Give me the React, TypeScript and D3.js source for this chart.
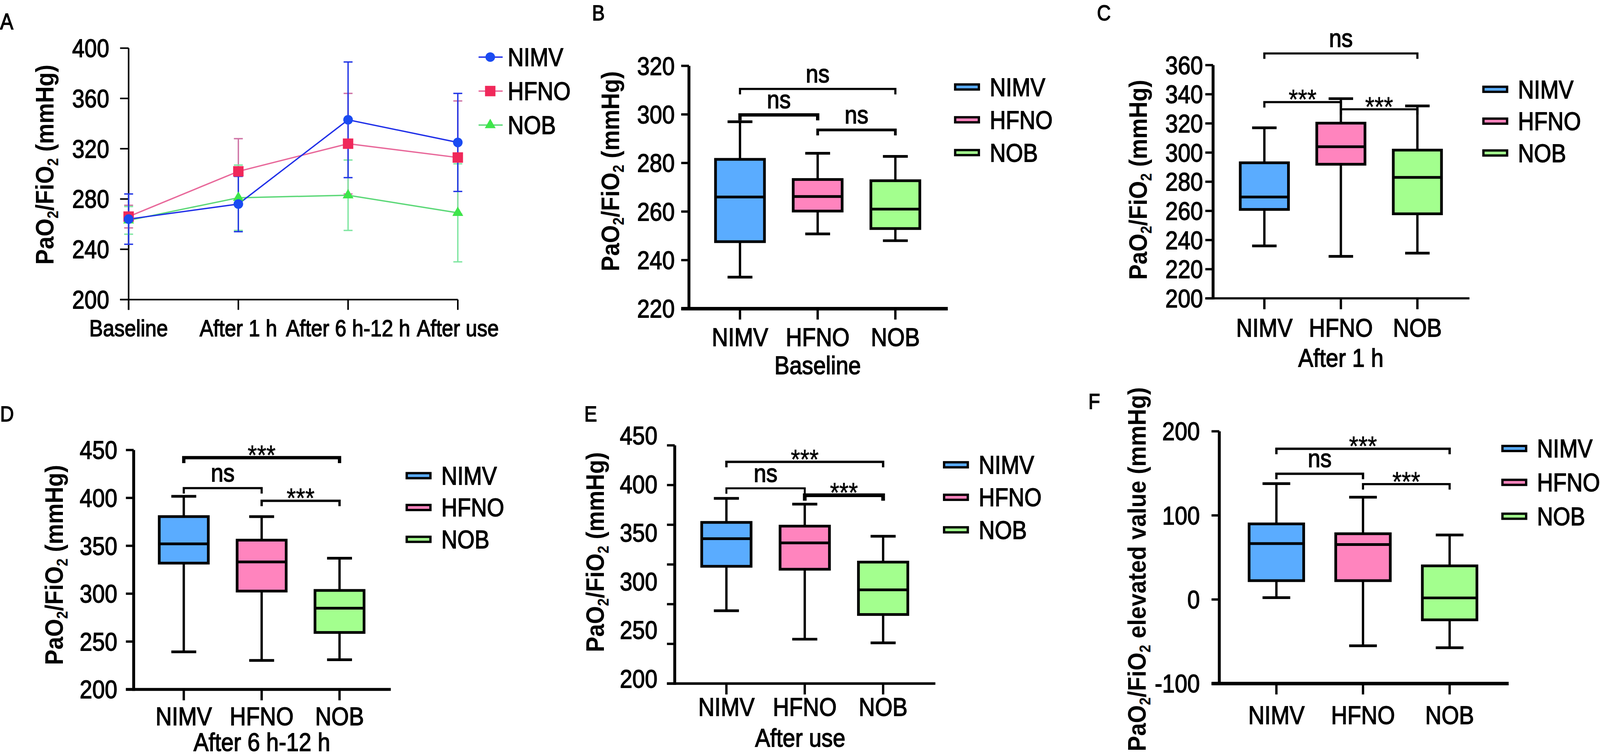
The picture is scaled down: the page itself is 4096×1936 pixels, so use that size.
import * as d3 from 'd3';

const FONT = '"Liberation Sans", Arial, Helvetica, sans-serif';
const SX = 0.88;

const groups = ['NIMV', 'HFNO', 'NOB'];
const timepoints = ['Baseline', 'After 1 h', 'After 6 h-12 h', 'After use'];

// Panel A: mean and SD at each time point
const nimvMean = [264, 276, 343, 325];
const nimvSd = [20, 22, 46, 39];
const hfnoMean = [266, 302, 324, 313];
const hfnoSd = [9, 26, 40, 45];
const nobMean = [263, 281, 283, 269];
const nobSd = [11, 26, 28, 39];
const trendTicks = [200, 240, 280, 320, 360, 400];

// Box panels: [min, q1, median, q3, max] for NIMV, HFNO, NOB
const baselineBox = [
  [233, 247.6, 266, 281.5, 297],
  [250.8, 260.2, 266.2, 273.2, 284],
  [248, 253, 261, 272.7, 282.7],
];
const baselineTicks = [220, 240, 260, 280, 300, 320];
const baselineSig: [number, number, number, string][] = [
  [0, 2, 310.5, 'ns'], [0, 1, 299.8, 'ns'], [1, 2, 293.6, 'ns'],
];

const after1hBox = [
  [236, 261, 269.5, 293, 317],
  [228.8, 292, 304, 320.2, 337],
  [231, 258, 283, 301.7, 332],
];
const after1hTicks = [200, 220, 240, 260, 280, 300, 320, 340, 360];
const after1hSig: [number, number, number, string][] = [
  [0, 2, 368, 'ns'], [0, 1, 334.6, '***'], [1, 2, 329.7, '***'],
];

const after6hBox = [
  [239.3, 331.9, 352, 380.5, 401.7],
  [230.3, 302.7, 333.2, 355.9, 380.5],
  [231, 259.5, 284.8, 303.4, 337],
];
const after6hTicks = [200, 250, 300, 350, 400, 450];
const after6hSig: [number, number, number, string][] = [
  [0, 2, 442, '***'], [0, 1, 410.2, 'ns'], [1, 2, 397, '***'],
];

const afterUseBox = [
  [241.7, 297.7, 332.5, 353, 383.2],
  [205.9, 294, 327.2, 348.3, 376],
  [201.3, 237, 268.1, 303, 335.6],
];
const afterUseTicks = [150, 200, 250, 300, 350, 400, 450];
const afterUseLabels = [200, 250, 300, 350, 400, 450];
const afterUseSig: [number, number, number, string][] = [
  [0, 2, 429.2, '***'], [0, 1, 395.9, 'ns'], [1, 2, 387.2, '***'],
];

const elevatedBox = [
  [2.2, 22.4, 66.5, 89.9, 137.8],
  [-55, 22.4, 65.3, 78.2, 121.6],
  [-57.4, -24.2, 1.9, 40, 76.7],
];
const elevatedTicks = [-100, 0, 100, 200];
const elevatedSig: [number, number, number, string][] = [
  [0, 2, 179.2, '***'], [0, 1, 149.5, 'ns'], [1, 2, 137.2, '***'],
];

const boxFill = ['#5aacff', '#ff84be', '#a3ff8e'];

function Txt({ x, y, size, children, anchor = 'middle', weight = 400, rotate = 0, heavy = 1.8 }: any) {
  return (
    <text
      transform={`translate(${x},${y})${rotate ? ` rotate(${rotate})` : ''} scale(${SX},1)`}
      fontSize={size}
      fontWeight={weight}
      textAnchor={anchor}
      fontFamily={FONT}
      fill="#000"
      stroke="#000"
      strokeWidth={heavy}
    >
      {children}
    </text>
  );
}

function AxisTitle({ x, y, middle = '' }: any) {
  return (
    <text
      transform={`translate(${x},${y}) rotate(-90) scale(0.9,1)`}
      fontSize={66}
      fontWeight={700}
      textAnchor="middle"
      fontFamily={FONT}
      fill="#000"
    >
      PaO<tspan fontSize={40} dy={12}>2</tspan>
      <tspan dy={-12}>/FiO</tspan>
      <tspan fontSize={40} dy={12}>2</tspan>
      <tspan dy={-12}>{`${middle} (mmHg)`}</tspan>
    </text>
  );
}

function TrendPanel() {
  const x = d3.scalePoint<string>().domain(timepoints).range([331, 1178.5]);
  const y = d3.scaleLinear().domain([200, 400]).range([771.5, 124]);
  const series = [
    { name: 'HFNO', mean: hfnoMean, sd: hfnoSd, marker: '#f0285a', line: '#e8689a', err: '#cf74a6', sym: d3.symbolSquare, size: 720 },
    { name: 'NOB', mean: nobMean, sd: nobSd, marker: '#3ee64a', line: '#5cd878', err: '#80e6a2', sym: d3.symbolTriangle, size: 340 },
    { name: 'NIMV', mean: nimvMean, sd: nimvSd, marker: '#1a4bf2', line: '#1f2fe8', err: '#2236e6', sym: d3.symbolCircle, size: 480 },
  ];
  const legendOrder = ['NIMV', 'HFNO', 'NOB'];
  const legendRows = d3.scalePoint<string>().domain(legendOrder).range([147, 322]);
  const line = d3.line<number>().x((_, i) => x(timepoints[i])!).y((d) => y(d));
  const cap = 11.5;
  return (
    <g>
      <Txt x={0} y={75} size={58} anchor="start">A</Txt>
      <AxisTitle x={138} y={424} />
      {/* axes */}
      <line x1={331} x2={331} y1={124} y2={798} stroke="#000" strokeWidth={4} />
      <line x1={309} x2={1178.5} y1={y(200)} y2={y(200)} stroke="#000" strokeWidth={4} />
      {trendTicks.map((t) => (
        <g key={t}>
          <line x1={309} x2={331} y1={y(t)} y2={y(t)} stroke="#000" strokeWidth={4} />
          <Txt x={281} y={y(t) + 23} size={65} anchor="end">{t}</Txt>
        </g>
      ))}
      {timepoints.map((t) => (
        <g key={t}>
          <line x1={x(t)} x2={x(t)} y1={y(200)} y2={798} stroke="#000" strokeWidth={4} />
          <Txt x={x(t)} y={866} size={60}>{t}</Txt>
        </g>
      ))}
      {/* lines and error bars */}
      {series.map((s) => (
        <g key={s.name}>
          <path d={line(s.mean)!} fill="none" stroke={s.line} strokeWidth={3.5} />
          {s.mean.map((m, i) => {
            const cx = x(timepoints[i])!;
            return (
              <g key={i} stroke={s.err} strokeWidth={3.5}>
                <line x1={cx} x2={cx} y1={y(m + s.sd[i])} y2={y(m - s.sd[i])} />
                <line x1={cx - cap} x2={cx + cap} y1={y(m + s.sd[i])} y2={y(m + s.sd[i])} />
                <line x1={cx - cap} x2={cx + cap} y1={y(m - s.sd[i])} y2={y(m - s.sd[i])} />
              </g>
            );
          })}
        </g>
      ))}
      {series.map((s) =>
        s.mean.map((m, i) => (
          <path
            key={s.name + i}
            transform={`translate(${x(timepoints[i])},${y(m)})`}
            d={d3.symbol().type(s.sym).size(s.size)()!}
            fill={s.marker}
          />
        ))
      )}
      {/* legend */}
      {legendOrder.map((n) => {
        const s = series.find((d) => d.name === n)!;
        const ly = legendRows(n)!;
        return (
          <g key={n}>
            <line x1={1232} x2={1294} y1={ly} y2={ly} stroke={s.line} strokeWidth={3.5} />
            <path transform={`translate(1262,${ly})`} d={d3.symbol().type(s.sym).size(s.size)()!} fill={s.marker} />
            <Txt x={1307} y={ly + 23} size={65} anchor="start">{n}</Txt>
          </g>
        );
      })}
    </g>
  );
}

function BoxPanel({ cfg }: any) {
  const y = d3.scaleLinear().domain(cfg.domain).range([cfg.yBottom, cfg.yTop]);
  const x = d3.scalePoint<string>().domain(groups).range(cfg.catRange);
  const labelY = cfg.labelRange
    ? d3.scaleLinear().domain([cfg.labels[0], cfg.labels[cfg.labels.length - 1]]).range(cfg.labelRange)
    : y;
  const labels = cfg.labels || cfg.ticks;
  const step = cfg.catRange[1] - cfg.catRange[0];
  const bw = (step / 2) * 0.63;
  const cw = (step / 2) * 0.32;
  const ax = cfg.axisX;
  const yb = y(cfg.domain[0]);
  const legendRows = d3.scalePoint<string>().domain(groups).range(cfg.legendRows);
  const drop = 14;
  return (
    <g>
      <Txt x={cfg.letterX} y={cfg.letterY} size={56} anchor="start">{cfg.letter}</Txt>
      <AxisTitle x={cfg.titleX} y={cfg.titleY} middle={cfg.titleMiddle} />
      {/* boxes */}
      {cfg.stats.map((st: number[], i: number) => {
        const cx = x(groups[i])!;
        const [mn, q1, md, q3, mx] = st;
        return (
          <g key={i} stroke="#000">
            <line x1={cx} x2={cx} y1={y(mx)} y2={y(q3)} strokeWidth={6} />
            <line x1={cx} x2={cx} y1={y(q1)} y2={y(mn)} strokeWidth={6} />
            <line x1={cx - cw / 2} x2={cx + cw / 2} y1={y(mx)} y2={y(mx)} strokeWidth={7} />
            <line x1={cx - cw / 2} x2={cx + cw / 2} y1={y(mn)} y2={y(mn)} strokeWidth={7} />
            <rect x={cx - bw / 2} y={y(q3)} width={bw} height={y(q1) - y(q3)} fill={boxFill[i]} strokeWidth={7} />
            <line x1={cx - bw / 2} x2={cx + bw / 2} y1={y(md)} y2={y(md)} strokeWidth={7} />
          </g>
        );
      })}
      {/* axes */}
      <line x1={ax} x2={ax} y1={y(cfg.ticks[cfg.ticks.length - 1])} y2={yb + cfg.xAxisW / 2} stroke="#000" strokeWidth={7.5} />
      <line x1={ax - 20} x2={cfg.xAxisRight} y1={yb} y2={yb} stroke="#000" strokeWidth={cfg.xAxisW} />
      {cfg.ticks.map((t: number) => (
        <line key={t} x1={ax - 20} x2={ax} y1={y(t)} y2={y(t)} stroke="#000" strokeWidth={6} />
      ))}
      {labels.map((t: number) => (
        <Txt key={t} x={cfg.tickLabelX} y={labelY(t) + 23} size={66} anchor="end">{t}</Txt>
      ))}
      {groups.map((g) => (
        <g key={g}>
          <line x1={x(g)} x2={x(g)} y1={yb} y2={yb + 28} stroke="#000" strokeWidth={6} />
          <Txt x={x(g)} y={cfg.catBaseline} size={66}>{g}</Txt>
        </g>
      ))}
      {cfg.subtitle && (
        <Txt x={cfg.subtitleX} y={cfg.subtitleBaseline} size={66}>{cfg.subtitle}</Txt>
      )}
      {/* significance brackets */}
      {cfg.sig.map(([a, b, v, lab]: [number, number, number, string], k: number) => {
        const x1 = x(groups[a])!;
        const x2 = x(groups[b])!;
        const by = y(v);
        return (
          <g key={k}>
            <path
              d={`M${x1},${by + drop}V${by}H${x2}V${by + drop}`}
              fill="none"
              stroke="#000"
              strokeWidth={cfg.sigW[k]}
            />
            <Txt x={(x1 + x2) / 2} y={lab === 'ns' ? by - 17 : by + 18} size={lab === 'ns' ? 66 : 70} heavy={lab === 'ns' ? 1.8 : 0.8}>{lab}</Txt>
          </g>
        );
      })}
      {/* legend */}
      {groups.map((g, i) => {
        const ly = legendRows(g)!;
        return (
          <g key={g}>
            <rect x={cfg.legendX + 3} y={ly - 6.5} width={61} height={13} fill={boxFill[i]} stroke="#000" strokeWidth={6} />
            <Txt x={cfg.legendX + 92} y={ly + 23} size={65} anchor="start">{g}</Txt>
          </g>
        );
      })}
    </g>
  );
}

const panels = [
  {
    letter: 'B', letterX: 1524, letterY: 52, stats: baselineBox, ticks: baselineTicks, sig: baselineSig,
    domain: [220, 320], yBottom: 795, yTop: 169.6, axisX: 1773.6, catRange: [1905, 2305], xAxisRight: 2440,
    xAxisW: 9, tickLabelX: 1737, catBaseline: 891, subtitle: 'Baseline', subtitleX: 2105, subtitleBaseline: 963,
    legendX: 2456, legendRows: [224, 393], titleX: 1594, titleY: 441, sigW: [5.5, 8.5, 7],
  },
  {
    letter: 'C', letterX: 2824, letterY: 52, stats: after1hBox, ticks: after1hTicks, sig: after1hSig,
    domain: [200, 360], yBottom: 768.4, yTop: 167.7, axisX: 3123, catRange: [3255, 3649], xAxisRight: 3783,
    xAxisW: 5.5, tickLabelX: 3097, catBaseline: 867, subtitle: 'After 1 h', subtitleX: 3452, subtitleBaseline: 944,
    legendX: 3816, legendRows: [230, 394], titleX: 2953, titleY: 463, sigW: [5.5, 5.5, 5.5],
  },
  {
    letter: 'D', letterX: 0, letterY: 1085, stats: after6hBox, ticks: after6hTicks, sig: after6hSig,
    domain: [200, 450], yBottom: 1775.6, yTop: 1159, axisX: 344, catRange: [473, 874], xAxisRight: 1006,
    xAxisW: 7.5, tickLabelX: 302, catBaseline: 1868, subtitle: 'After 6 h-12 h', subtitleX: 674, subtitleBaseline: 1934,
    legendX: 1044, legendRows: [1225, 1389], titleX: 162, titleY: 1455, sigW: [8.5, 5.5, 6],
  },
  {
    letter: 'E', letterX: 1504, letterY: 1085, stats: afterUseBox, ticks: afterUseTicks, labels: afterUseLabels,
    labelRange: [1747.8, 1121.6], sig: afterUseSig,
    domain: [150, 450], yBottom: 1760.5, yTop: 1147, axisX: 1737, catRange: [1870, 2273.5], xAxisRight: 2408,
    xAxisW: 6.5, tickLabelX: 1692.5, catBaseline: 1843, subtitle: 'After use', subtitleX: 2060, subtitleBaseline: 1923,
    legendX: 2427.5, legendRows: [1197, 1364.5], titleX: 1555, titleY: 1422, sigW: [6, 5, 9.5],
  },
  {
    letter: 'F', letterX: 2802, letterY: 1053, stats: elevatedBox, ticks: elevatedTicks, sig: elevatedSig,
    domain: [-100, 200], yBottom: 1760.5, yTop: 1110.8, axisX: 3139, catRange: [3286, 3732], xAxisRight: 3884,
    xAxisW: 9, tickLabelX: 3089, catBaseline: 1865, subtitle: '', subtitleX: 0, subtitleBaseline: 0,
    legendX: 3865, legendRows: [1155, 1329.5], titleX: 2950, titleY: 1466, titleMiddle: ' elevated value',
    sigW: [6, 6, 5.5],
  },
];

export default function App() {
  return (
    <svg
      width={4096}
      height={1936}
      viewBox="0 0 4119 1947"
      style={{ position: 'absolute', left: 0, top: 0, background: '#fff' }}
    >
      <rect x={0} y={0} width={4119} height={1947} fill="#fff" />
      <TrendPanel />
      {panels.map((p) => (
        <BoxPanel key={p.letter} cfg={p} />
      ))}
    </svg>
  );
}
